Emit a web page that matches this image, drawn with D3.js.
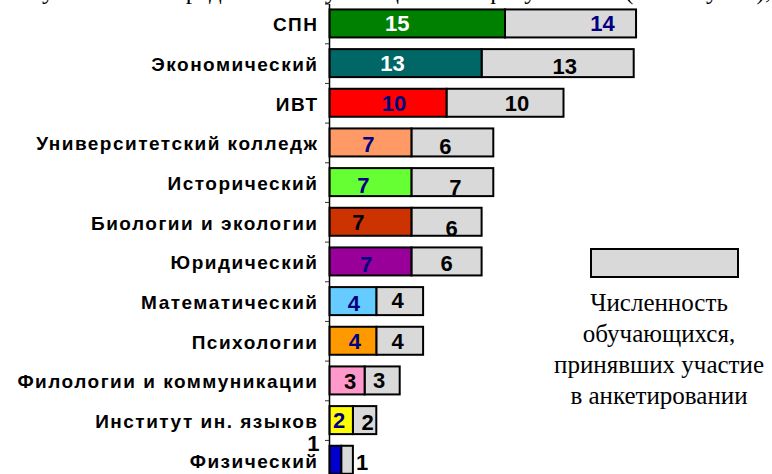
<!DOCTYPE html>
<html>
<head>
<meta charset="utf-8">
<script src="https://cdn.jsdelivr.net/npm/d3@7"></script>
<style>
  body { margin: 0; background: #fff; }
  svg { display: block; }
</style>
</head>
<body>
<script>
const categories = ["СПН", "Экономический", "ИВТ", "Университетский колледж", "Исторический",
  "Биологии и экологии", "Юридический", "Математический", "Психологии",
  "Филологии и коммуникации", "Институт ин. языков", "Физический"];
const facultyValues = [15, 13, 10, 7, 7, 7, 7, 4, 4, 3, 2, 1];
const surveyedValues = [11.2, 13, 10, 7, 7, 6, 6, 4, 4, 3, 2, 1];
const facultyLabels = ["15", "13", "10", "7", "7", "7", "7", "4", "4", "3", "2", "1"];
const surveyedLabels = ["14", "13", "10", "6", "7", "6", "6", "4", "4", "3", "2", "1"];
const barColors = ["#008000", "#006666", "#ff0000", "#ff9966", "#66ff33", "#cc3300",
  "#990099", "#66ccff", "#ff9900", "#ff99cc", "#ffff00", "#0000cc"];
const legendLines = ["Численность", "обучающихся,", "принявших участие", "в анкетировании"];
const captionText = "Рисунок 1 – Распределение обучающихся по факультетам (институтам), человек";

// label colours and small nudges, as placed by hand in the original
const facultyLabelColors = ["#fff", "#fff", "#000080", "#000080", "#000080", "#000",
  "#000080", "#000080", "#000080", "#000", "#000080", "#000"];
const surveyedLabelColors = ["#000080", "#000", "#000", "#000", "#000", "#000",
  "#000", "#000", "#000", "#000", "#000", "#000"];
const facultyNudge = [[-20, 0], [-13, 0], [6, 0], [-2, 2], [-7, 3], [-12, 0], [-4, 3],
  [1, 2], [2, 0], [3, 1], [-2, 0], [-22, -17]];
const surveyedNudge = [[32, 0], [7, 3], [12, 0], [-7, 4], [3, 5], [5, 6], [0, 2],
  [-2, -1], [-2, 0], [-3, 0], [3, 2], [15, 2]];

const w = 772;
const h = 474;
const grey = "#d9d9d9";

const svg = d3.select("body")
  .append("svg")
  .attr("width", w)
  .attr("height", h);

// caption line above, cut off by the crop (only descenders show)
svg.append("text")
  .attr("x", 4)
  .attr("y", -1.5)
  .style("font-family", "'Liberation Serif', 'Times New Roman', serif")
  .style("font-size", "25px")
  .text(captionText);

const yScale = d3.scaleBand()
  .domain(categories)
  .range([3.6, 479.6])
  .paddingInner(0.294)
  .paddingOuter(0.147);

const xScale = d3.scaleLinear()
  .domain([0, 10])
  .range([329.5, 446.5]);

const rows = categories.map((c, i) => ({
  cat: c,
  a: facultyValues[i],
  b: surveyedValues[i],
  i: i
}));

// grey part
svg.selectAll("rect.surveyed")
  .data(rows)
  .enter()
  .append("rect")
  .attr("class", "surveyed")
  .attr("x", d => xScale(d.a))
  .attr("y", d => yScale(d.cat))
  .attr("width", d => xScale(d.a + d.b) - xScale(d.a))
  .attr("height", yScale.bandwidth())
  .attr("fill", grey)
  .attr("stroke", "#000")
  .attr("stroke-width", 2);

// coloured part
svg.selectAll("rect.faculty")
  .data(rows)
  .enter()
  .append("rect")
  .attr("class", "faculty")
  .attr("x", xScale(0))
  .attr("y", d => yScale(d.cat))
  .attr("width", d => xScale(d.a) - xScale(0))
  .attr("height", yScale.bandwidth())
  .attr("fill", d => barColors[d.i])
  .attr("stroke", "#000")
  .attr("stroke-width", 2);

// category labels
const catAxis = svg.append("g")
  .attr("transform", `translate(${xScale(0)}, 0)`)
  .call(d3.axisLeft(yScale).tickSize(0).tickPadding(11));
catAxis.select(".domain").remove();
catAxis.selectAll(".tick text")
  .attr("dy", "0.42em")
  .attr("fill", "#000")
  .style("font-family", "'Liberation Sans', Arial, sans-serif")
  .style("font-weight", "bold")
  .style("font-size", "19px")
  .style("letter-spacing", "1.5px");

// axis line with ticks between categories
const boundary = d3.scaleLinear()
  .domain([0, categories.length])
  .range(yScale.range());
svg.append("g")
  .attr("transform", `translate(${xScale(0) - 0.5}, 0)`)
  .call(d3.axisLeft(boundary)
    .tickValues(d3.range(categories.length + 1))
    .tickFormat("")
    .tickSize(4)
    .tickSizeOuter(0))
  .call(g => g.select(".domain").attr("stroke", "#000").attr("stroke-width", 1.5))
  .call(g => g.selectAll(".tick line").attr("stroke", "#333"));

const labelFont = g => g
  .style("font-family", "'Liberation Sans', Arial, sans-serif")
  .style("font-weight", "bold")
  .style("font-size", "22px")
  .attr("text-anchor", "middle")
  .attr("dy", "0.36em");

svg.selectAll("text.fl")
  .data(rows)
  .enter()
  .append("text")
  .attr("class", "fl")
  .attr("x", d => (xScale(0) + xScale(d.a)) / 2 + facultyNudge[d.i][0])
  .attr("y", d => yScale(d.cat) + yScale.bandwidth() / 2 + facultyNudge[d.i][1])
  .attr("fill", d => facultyLabelColors[d.i])
  .call(labelFont)
  .text(d => facultyLabels[d.i]);

svg.selectAll("text.sl")
  .data(rows)
  .enter()
  .append("text")
  .attr("class", "sl")
  .attr("x", d => (xScale(d.a) + xScale(d.a + d.b)) / 2 + surveyedNudge[d.i][0])
  .attr("y", d => yScale(d.cat) + yScale.bandwidth() / 2 + surveyedNudge[d.i][1])
  .attr("fill", d => surveyedLabelColors[d.i])
  .call(labelFont)
  .text(d => surveyedLabels[d.i]);

// legend
const legend = svg.append("g");
legend.append("rect")
  .attr("x", 591)
  .attr("y", 249)
  .attr("width", 147)
  .attr("height", 28)
  .attr("fill", grey)
  .attr("stroke", "#000")
  .attr("stroke-width", 2);
legend.selectAll("text")
  .data(legendLines)
  .enter()
  .append("text")
  .attr("x", 659)
  .attr("y", (d, i) => 311 + i * 31)
  .attr("text-anchor", "middle")
  .style("font-family", "'Liberation Serif', 'Times New Roman', serif")
  .style("font-size", "25px")
  .attr("fill", "#000")
  .text(d => d);
</script>
</body>
</html>
